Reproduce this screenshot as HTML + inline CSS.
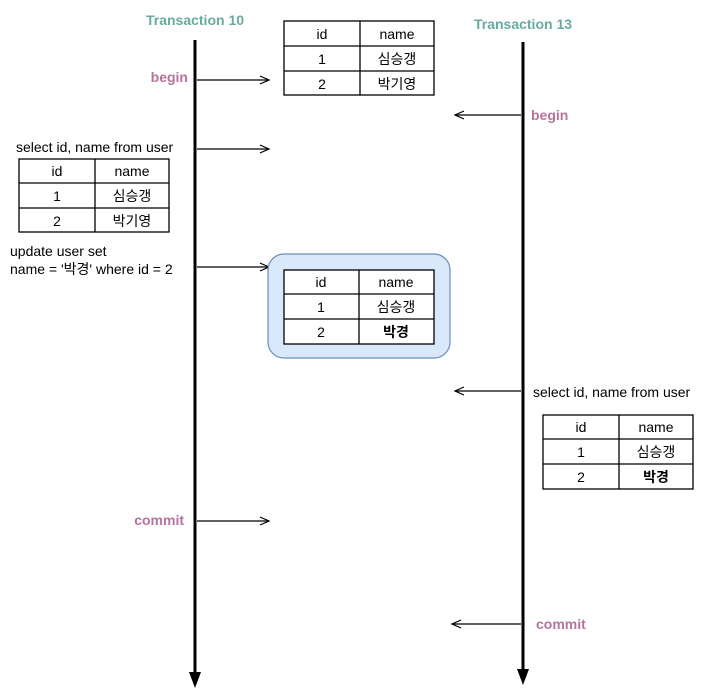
<!DOCTYPE html>
<html><head><meta charset="utf-8"><style>
html,body{margin:0;padding:0;background:#fff;}
svg{display:block;font-family:"Liberation Sans","Noto Sans CJK KR",sans-serif;}
</style></head><body>
<svg width="715" height="695" viewBox="0 0 715 695" xmlns="http://www.w3.org/2000/svg">
<defs>
<marker id="open" markerWidth="12" markerHeight="12" refX="10" refY="5" orient="auto" markerUnits="userSpaceOnUse">
<path d="M1,1 L10,5 L1,9" fill="none" stroke="#000" stroke-width="1.2"/>
</marker>
</defs>
<!-- lifelines -->
<line x1="195" y1="40" x2="195" y2="674" stroke="#000" stroke-width="3"/>
<polygon points="189,672 201,672 195,688" fill="#000"/>
<line x1="523" y1="42" x2="523" y2="671" stroke="#000" stroke-width="3"/>
<polygon points="517,669 529,669 523,685" fill="#000"/>
<text x="195" y="25" text-anchor="middle" font-size="14" font-weight="bold" fill="#67AB9F">Transaction 10</text>
<text x="523" y="29" text-anchor="middle" font-size="14" font-weight="bold" fill="#67AB9F">Transaction 13</text>
<!-- arrows -->
<g stroke="#000" stroke-width="1.2" marker-end="url(#open)">
<line x1="197" y1="80" x2="269" y2="80"/>
<line x1="197" y1="149" x2="269" y2="149"/>
<line x1="197" y1="267" x2="269" y2="267"/>
<line x1="197" y1="521" x2="269" y2="521"/>
<line x1="521" y1="115" x2="455" y2="115"/>
<line x1="521" y1="391" x2="455" y2="391"/>
<line x1="521" y1="624" x2="452" y2="624"/>
</g>
<g font-size="14" font-weight="bold" fill="#B5739D">
<text x="188" y="82" text-anchor="end">begin</text>
<text x="184" y="525" text-anchor="end">commit</text>
<text x="531" y="120">begin</text>
<text x="536" y="629">commit</text>
</g>
<g font-size="14" fill="#000">
<text x="16" y="152">select id, name from user</text>
<text x="10" y="256">update user set</text>
<text x="10" y="274">name = '박경' where id = 2</text>
<text x="533" y="397">select id, name from user</text>
</g>
<!-- blue box -->
<rect x="268" y="254" width="182" height="104" rx="16" fill="#DAE8FC" stroke="#6C8EBF" stroke-width="1.2"/>
<!-- tables -->
<g id="t1">
<rect x="284" y="21" width="150" height="74" fill="#fff" stroke="#000" stroke-width="1.3"/>
<line x1="284" y1="46" x2="434" y2="46" stroke="#000" stroke-width="1.3"/>
<line x1="284" y1="71" x2="434" y2="71" stroke="#000" stroke-width="1.3"/>
<line x1="360" y1="21" x2="360" y2="95" stroke="#000" stroke-width="1.3"/>
<g font-size="14" text-anchor="middle"><text x="322" y="39">id</text><text x="397" y="39">name</text>
<text x="322" y="64">1</text><text x="397" y="64">심승갱</text><text x="322" y="89">2</text><text x="397" y="89">박기영</text></g>
</g>
<g>
<rect x="19" y="159" width="150" height="73" fill="#fff" stroke="#000" stroke-width="1.3"/>
<line x1="19" y1="183" x2="169" y2="183" stroke="#000" stroke-width="1.3"/>
<line x1="19" y1="208" x2="169" y2="208" stroke="#000" stroke-width="1.3"/>
<line x1="95" y1="159" x2="95" y2="232" stroke="#000" stroke-width="1.3"/>
<g font-size="14" text-anchor="middle"><text x="57" y="176">id</text><text x="132" y="176">name</text>
<text x="57" y="201">1</text><text x="132" y="201">심승갱</text><text x="57" y="226">2</text><text x="132" y="226">박기영</text></g>
</g>
<g>
<rect x="284" y="270" width="150" height="74" fill="#fff" stroke="#000" stroke-width="1.3"/>
<line x1="284" y1="294" x2="434" y2="294" stroke="#000" stroke-width="1.3"/>
<line x1="284" y1="319" x2="434" y2="319" stroke="#000" stroke-width="1.3"/>
<line x1="359" y1="270" x2="359" y2="344" stroke="#000" stroke-width="1.3"/>
<g font-size="14" text-anchor="middle"><text x="321" y="287">id</text><text x="396" y="287">name</text>
<text x="321" y="312">1</text><text x="396" y="312">심승갱</text><text x="321" y="337">2</text><text x="396" y="337" font-weight="bold">박경</text></g>
</g>
<g>
<rect x="543" y="415" width="150" height="74" fill="#fff" stroke="#000" stroke-width="1.3"/>
<line x1="543" y1="439" x2="693" y2="439" stroke="#000" stroke-width="1.3"/>
<line x1="543" y1="464" x2="693" y2="464" stroke="#000" stroke-width="1.3"/>
<line x1="619" y1="415" x2="619" y2="489" stroke="#000" stroke-width="1.3"/>
<g font-size="14" text-anchor="middle"><text x="581" y="432">id</text><text x="656" y="432">name</text>
<text x="581" y="457">1</text><text x="656" y="457">심승갱</text><text x="581" y="482">2</text><text x="656" y="482" font-weight="bold">박경</text></g>
</g>
</svg>
</body></html>
